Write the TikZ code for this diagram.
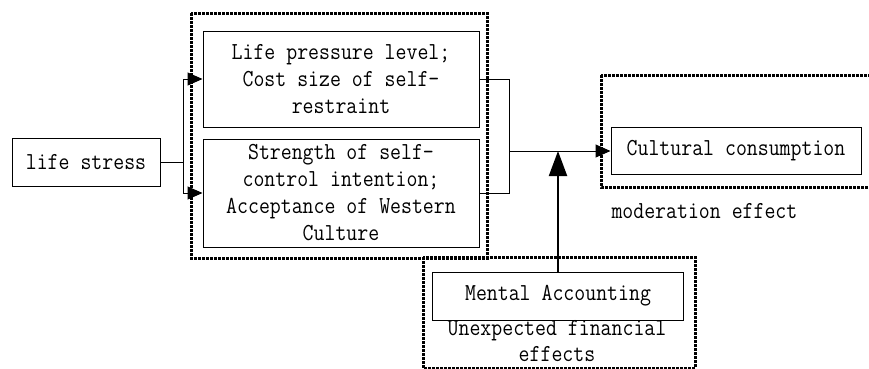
\documentclass[tikz,border=0pt]{standalone}
\usepackage{fontspec}
\newfontfamily\boxfont{Latin Modern Mono}[FakeStretch=0.87]
\usetikzlibrary{arrows.meta}
\tikzset{
  box/.style={draw,line width=1pt,inner sep=0pt,align=center,font=\boxfont\fontsize{24.4}{27}\selectfont},
  group/.style={line width=3pt,dash pattern=on 2.8pt off 1.2pt},
  label/.style={inner sep=0pt,align=center,font=\boxfont\fontsize{24.4}{26}\selectfont},
}
\begin{document}
\begin{tikzpicture}[x=1pt,y=-1pt,line width=1pt,>={Triangle[length=15pt,width=13pt]}]
  \clip (0,0) rectangle (869,368);
  \fill[white] (0,0) rectangle (869,368);
  \draw[group] (191,13) rectangle (487,258);
  \draw[group] (601,75) rectangle (880,187);
  \draw[group] (423,257) rectangle (695,368);
  \node[box,minimum width=148pt,minimum height=48pt] (stress) at (86,162) {life stress};
  \node[box,minimum width=276pt,minimum height=96pt] (pressure) at (341,79) {Life pressure level;\\ Cost size of self-\\restraint};
  \node[box,minimum width=276pt,minimum height=108pt] (intention) at (341,193) {Strength of self-\\control intention;\\Acceptance of Western\\Culture};
  \node[box,minimum width=250pt,minimum height=47pt] (consume) at (736,151) {Cultural consumption};
  \node[box,minimum width=251pt,minimum height=48pt] (mental) at (558,296) {Mental Accounting};
  \node[label,anchor=west] (moderation) at (611,211) {moderation effect};
  \node[label] (unexpected) at (557,341) {Unexpected financial\\effects};
  \coordinate (fork) at (183,162);
  \coordinate (join) at (509,151);
  \coordinate (hit) at (558,151);
  \draw (stress.east) -- (fork);
  \draw[->] (fork) |- (pressure.west);
  \draw[->] (fork) |- (intention.west);
  \draw (pressure.east) -| (join);
  \draw (intention.east) -| (join);
  \draw[->] (join) -- (consume.west);
  \draw[line width=2pt,-{Triangle[length=25pt,width=18pt]}] (mental.north) -- (hit);
\end{tikzpicture}
\end{document}
